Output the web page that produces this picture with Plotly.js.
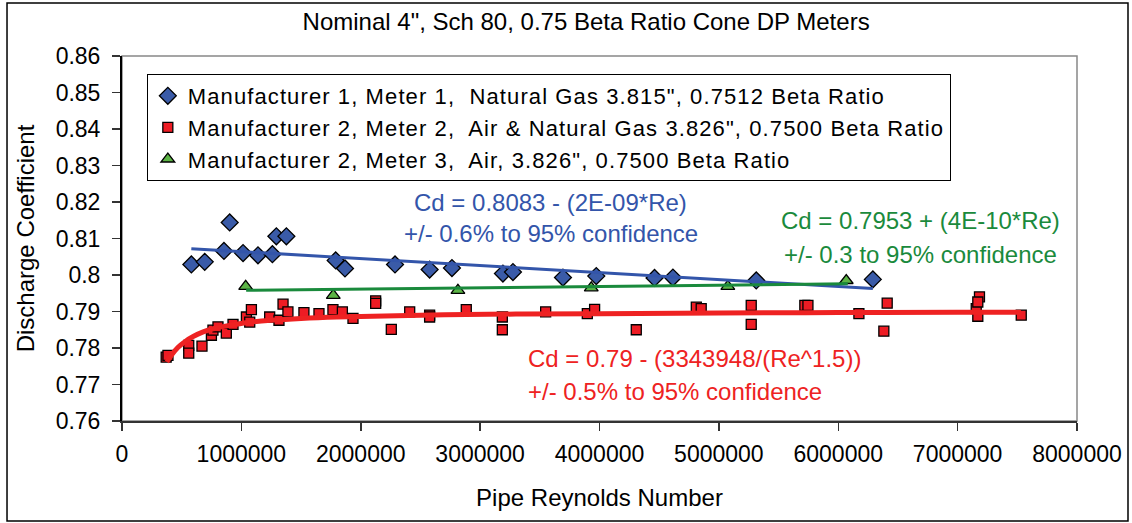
<!DOCTYPE html>
<html>
<head>
<meta charset="utf-8">
<script src="https://cdn.plot.ly/plotly-3.0.1.min.js"></script>
<style>
html,body{margin:0;padding:0;background:#fff;}
#chart{width:1132px;height:523px;}
text.legendtext{letter-spacing:1.1px;}
</style>
</head>
<body>
<div id="chart"></div>
<script>
// ---- Data ----
const m1Re = [581000, 693000, 854000, 902000, 1014000, 1139000, 1260000, 1293000, 1377000, 1790000, 1868000, 2287000, 2577000, 2764000, 3191000, 3275000, 3694000, 3973000, 4461000, 4615000, 5313000, 6290000];
const m1Cd = [0.8029, 0.8036, 0.8066, 0.8144, 0.8060, 0.8054, 0.8057, 0.8106, 0.8106, 0.8040, 0.8018, 0.8029, 0.8015, 0.8019, 0.8004, 0.8008, 0.7993, 0.7997, 0.7992, 0.7993, 0.7985, 0.7988];

const m2Re = [370000, 385000, 559000, 559000, 670000, 749000, 762000, 804000, 874000, 930000, 1042000, 1070000, 1084000, 1237000, 1315000, 1349000, 1390000, 1524000, 1650000, 1767000, 1846000, 1935000, 2125000, 2125000, 2256000, 2410000, 2577000, 2577000, 2884000, 3186000, 3186000, 3549000, 3898000, 3959000, 4308000, 4811000, 4852000, 5271000, 5271000, 5720000, 5746000, 6173000, 6410000, 6382000, 7156000, 7183000, 7169000, 7169000, 7533000];
const m2Cd = [0.7775, 0.7780, 0.7807, 0.7786, 0.7805, 0.7835, 0.7849, 0.7858, 0.7841, 0.7865, 0.7885, 0.7871, 0.7905, 0.7885, 0.7876, 0.7920, 0.7899, 0.7897, 0.7894, 0.7905, 0.7899, 0.7881, 0.7929, 0.7922, 0.7851, 0.7899, 0.7890, 0.7885, 0.7905, 0.7885, 0.7850, 0.7899, 0.7894, 0.7906, 0.7850, 0.7912, 0.7908, 0.7917, 0.7865, 0.7917, 0.7917, 0.7894, 0.7923, 0.7846, 0.7908, 0.7940, 0.7926, 0.7887, 0.7890];

const m3Re = [1036000, 1770000, 2814000, 3931000, 5075000, 6067000];
const m3Cd = [0.7969, 0.7944, 0.7958, 0.7965, 0.7969, 0.7985];

// Trend lines
const fit1Re = [581000, 6290000];
const fit1Cd = [0.8072, 0.7963];
const fit3Re = [1040000, 6080000];
const fit3Cd = [0.7958, 0.7976];
const fit2Re = [375000, 420000, 470000, 530000, 600000, 680000, 780000, 900000, 1050000, 1250000, 1500000, 1800000, 2200000, 2700000, 3300000, 4000000, 5000000, 6000000, 7000000, 7530000];
const fit2Cd = [0.7762, 0.7783, 0.7802, 0.7818, 0.7832, 0.7844, 0.7854, 0.7862, 0.7870, 0.7876, 0.7881, 0.7885, 0.7888, 0.7891, 0.7893, 0.7894, 0.7896, 0.7897, 0.7898, 0.7898];

const seriesNames = [
  'Manufacturer 1, Meter 1,  Natural Gas 3.815", 0.7512 Beta Ratio',
  'Manufacturer 2, Meter 2,  Air & Natural Gas 3.826", 0.7500 Beta Ratio',
  'Manufacturer 2, Meter 3,  Air, 3.826", 0.7500 Beta Ratio'
];
const yTicks = [0.76, 0.77, 0.78, 0.79, 0.80, 0.81, 0.82, 0.83, 0.84, 0.85, 0.86];
const xTicks = [0, 1000000, 2000000, 3000000, 4000000, 5000000, 6000000, 7000000, 8000000];

const FONT = 'Liberation Sans, Arial, sans-serif';
const BLUE = '#3A5BA8', RED = '#EE1C24', GREEN = '#5CB446';
const BLUE_L = '#3355AA', RED_L = '#EE2222', GREEN_L = '#1A8A3C';
const FS = 24, TFS = 23, LFS = 22;

const traces = [
  {x: m1Re, y: m1Cd, name: seriesNames[0], type: 'scatter', mode: 'markers',
   marker: {symbol: 'diamond', size: 13, color: BLUE, line: {color: '#000', width: 1.3}}},
  {x: m2Re, y: m2Cd, name: seriesNames[1], type: 'scatter', mode: 'markers',
   marker: {symbol: 'square', size: 10, color: RED, line: {color: '#000', width: 1.3}}},
  {x: m3Re, y: m3Cd, name: seriesNames[2], type: 'scatter', mode: 'markers',
   marker: {symbol: 'triangle-up', size: 12, color: GREEN, line: {color: '#000', width: 1.3}}},
  {x: fit1Re, y: fit1Cd, type: 'scatter', mode: 'lines', showlegend: false, hoverinfo: 'skip',
   line: {color: BLUE_L, width: 3}},
  {x: fit3Re, y: fit3Cd, type: 'scatter', mode: 'lines', showlegend: false, hoverinfo: 'skip',
   line: {color: GREEN_L, width: 3}},
  {x: fit2Re, y: fit2Cd, type: 'scatter', mode: 'lines', showlegend: false, hoverinfo: 'skip',
   line: {color: RED_L, width: 5, shape: 'spline'}}
];

const layout = {
  width: 1132, height: 523,
  margin: {l: 122, r: 55, t: 56, b: 102},
  paper_bgcolor: '#fff', plot_bgcolor: '#fff',
  font: {family: FONT, color: '#000', size: FS},
  title: {text: 'Nominal 4", Sch 80, 0.75 Beta Ratio Cone DP Meters', font: {family: FONT, size: FS, color: '#000'},
          x: 0.486, xanchor: 'center', y: 0.958, yanchor: 'middle', yref: 'container', xref: 'paper'},
  xaxis: {range: [0, 8000000], tickvals: xTicks, tickformat: 'd', showgrid: false, zeroline: false,
          showline: true, linecolor: '#333', linewidth: 2, ticks: 'outside', ticklen: 8, tickcolor: '#333', tickwidth: 1.5,
          ticklabelstandoff: 3,
          tickfont: {family: FONT, size: TFS, color: '#000'},
          title: {text: 'Pipe Reynolds Number', font: {family: FONT, size: FS, color: '#000'}, standoff: 24}},
  yaxis: {range: [0.76, 0.86], tickvals: yTicks, showgrid: false, zeroline: false,
          showline: true, linecolor: '#000', linewidth: 2, ticks: 'outside', ticklen: 8, tickcolor: '#333', tickwidth: 1.5,
          ticklabelstandoff: 7,
          tickfont: {family: FONT, size: TFS, color: '#000'},
          title: {text: 'Discharge Coefficient', font: {family: FONT, size: FS, color: '#000'}, standoff: 14}},
  legend: {x: 0.026, y: 0.9507, xanchor: 'left', yanchor: 'top', bgcolor: '#fff', bordercolor: '#000', borderwidth: 1,
           font: {family: FONT, size: LFS, color: '#000'}, tracegroupgap: 0},
  shapes: [
    {type: 'rect', xref: 'paper', yref: 'paper', x0: 0, x1: 1, y0: 0, y1: 1, line: {color: '#888', width: 1.5}, layer: 'below'},
    {type: 'rect', xref: 'paper', yref: 'paper', x0: -0.1204, x1: 1.0534, y0: -0.274, y1: 1.145, line: {color: '#000', width: 1.5}}
  ],
  annotations: [
    {x: 3590000, y: 0.8200, xref: 'x', yref: 'y', text: 'Cd = 0.8083 - (2E-09*Re)', showarrow: false, font: {family: FONT, size: FS, color: BLUE_L}, xanchor: 'center', yanchor: 'middle'},
    {x: 3590000, y: 0.8114, xref: 'x', yref: 'y', text: '+/- 0.6% to 95% confidence', showarrow: false, font: {family: FONT, size: FS, color: BLUE_L}, xanchor: 'center', yanchor: 'middle'},
    {x: 6693000, y: 0.8150, xref: 'x', yref: 'y', text: 'Cd = 0.7953 + (4E-10*Re)', showarrow: false, font: {family: FONT, size: FS, color: GREEN_L}, xanchor: 'center', yanchor: 'middle'},
    {x: 6693000, y: 0.8057, xref: 'x', yref: 'y', text: '+/- 0.3 to 95% confidence', showarrow: false, font: {family: FONT, size: FS, color: GREEN_L}, xanchor: 'center', yanchor: 'middle'},
    {x: 3387000, y: 0.7771, xref: 'x', yref: 'y', text: 'Cd = 0.79 - (3343948/(Re^1.5))', showarrow: false, font: {family: FONT, size: FS, color: RED_L}, xanchor: 'left', yanchor: 'middle'},
    {x: 3387000, y: 0.76795, xref: 'x', yref: 'y', text: '+/- 0.5% to 95% confidence', showarrow: false, font: {family: FONT, size: FS, color: RED_L}, xanchor: 'left', yanchor: 'middle'}
  ]
};

Plotly.newPlot('chart', traces, layout, {displayModeBar: false, staticPlot: true});
</script>
</body>
</html>
